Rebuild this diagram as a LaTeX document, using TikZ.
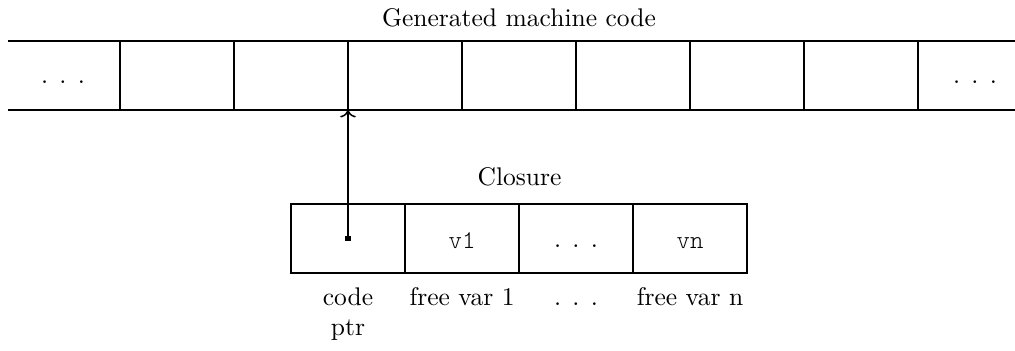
\documentclass[tikz,border=0pt]{standalone}
\usepackage{fontspec}
\newfontfamily\lighttt{Latin Modern Mono Light}
\usetikzlibrary{arrows.meta}
\begin{document}
\begin{tikzpicture}[x=0.392pt,y=-0.392pt,line width=0.6pt,
  cell/.style={minimum width=44.69pt,minimum height=27.05pt,inner sep=0pt,outer sep=0pt},
  txt/.style={anchor=base,inner sep=0pt},
  sqdot/.style={fill=black,minimum size=2pt,inner sep=0pt,outer sep=0pt}]
\useasboundingbox (0,0) rectangle (1015,350);
\begin{scope}
\clip (0,0) rectangle (1015,350);
% top row of machine code cells
\foreach \i in {1,...,9} \node[cell] (t\i) at ({63+114*(\i-1)},75.5) {};
\draw ([xshift=0.8pt]t1.north west) -- (t9.north east);
\draw ([xshift=0.8pt]t1.south west) -- (t9.south east);
\foreach \i in {2,...,9} \draw (t\i.north west) -- (t\i.south west);
\end{scope}
\node[txt] (tdots1) at (63,83) {. . .};
\node[txt] (tdots9) at (975,83) {. . .};
\node[txt] (title) at (519,26) {Generated machine code};
% closure
\node[cell,draw] (c1) at (348,238.5) {};
\node[cell,draw] (c2) at (462,238.5) {};
\node[cell,draw] (c3) at (576,238.5) {};
\node[cell,draw] (c4) at (690,238.5) {};
\node[txt] (ctitle) at (519.5,185) {Closure};
\node[txt] (v1) at (462,248) {\lighttt v1};
\node[txt] (cdots) at (576,247) {. . .};
\node[txt] (vn) at (690,248) {\lighttt vn};
\node[txt] (lcode) at (348,305) {code};
\node[txt] (lptr) at (348,335) {ptr};
\node[txt] (lfv1) at (462,305) {free var 1};
\node[txt] (ldots) at (576,305) {. . .};
\node[txt] (lfvn) at (690,305) {free var n};
% pointer
\node[sqdot] (sq) at (c1.center) {};
\draw[-{Computer Modern Rightarrow}] (sq.center) -- (t4.south west);
\end{tikzpicture}
\end{document}
